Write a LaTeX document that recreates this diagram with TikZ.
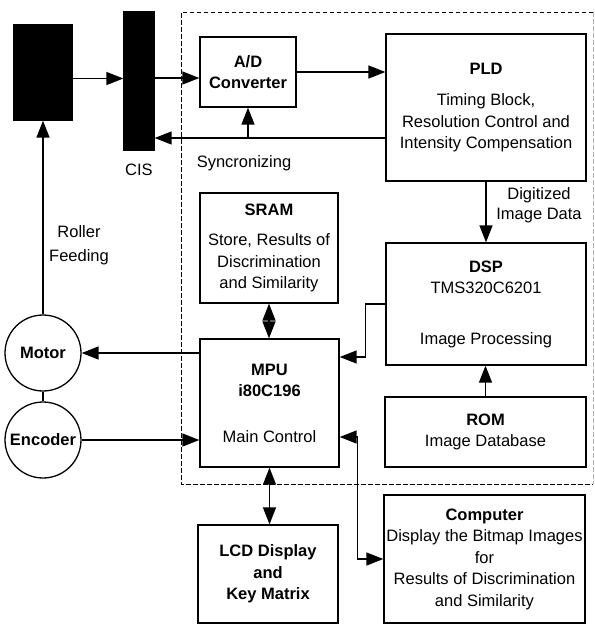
\documentclass[tikz,border=0pt]{standalone}
\usepackage{fontspec}
\setmainfont{Liberation Sans}
\usepackage{tikz}
\usetikzlibrary{arrows.meta,positioning,calc}
\newcommand{\dfont}{\fontsize{16.5}{21.5}\selectfont}

\tikzset{
  blk/.style={draw, line width=1.3pt, align=center, inner sep=0pt, font=\dfont},
  circ/.style={draw, circle, line width=1.3pt, minimum size=76pt, inner sep=0pt, font=\dfont\bfseries},
  lbl/.style={align=center, inner sep=0pt, font=\dfont},
  frame/.style={line width=1pt, dash pattern=on 4.5pt off 2.5pt}
}

\begin{document}
\begin{tikzpicture}[x=1pt, y=-1pt, line width=1.4pt, >={Triangle[length=17pt,width=13pt]}]
    \useasboundingbox (0,0) rectangle (595,625);

    % Board frame (dashed)
    \draw[frame] (593,12) -- (181,12) -- (181,484) -- (593,484);
    \draw[frame, gray!60] (593,12) -- (593,484);

    % Scanner side
    \node[blk, fill=black, minimum width=58pt, minimum height=95pt] (scanner) at (43,72.5) {};
    \node[blk, fill=black, minimum width=30pt, minimum height=138pt] (cis) at (139,81) {};
    \node[lbl] (cislbl) at (139,170) {CIS};

    % Blocks on the board
    \node[blk, minimum width=96pt, minimum height=70pt] (adc) at (248,72)
        {\textbf{A/D}\\\textbf{Converter}};
    \node[blk, minimum width=200pt, minimum height=147pt] (pld) at (486,107.5)
        {\textbf{PLD}\\[10pt]Timing Block,\\Resolution Control and\\Intensity Compensation};
    \node[blk, minimum width=200pt, minimum height=122pt] (dsp) at (486,304)
        {\textbf{DSP}\\TMS320C6201\\[29pt]Image Processing};
    \node[blk, minimum width=201pt, minimum height=70pt] (rom) at (485.5,432)
        {\textbf{ROM}\\Image Database};
    \node[blk, minimum width=138pt, minimum height=110pt] (sram) at (269,248)
        {\textbf{SRAM}\\[9pt]Store, Results of\\Discrimination\\and Similarity};
    \node[blk, minimum width=139pt, minimum height=128pt] (mpu) at (269.5,403)
        {\textbf{MPU}\\\textbf{i80C196}\\[24pt]Main Control};

    % Outside the board
    \node[blk, minimum width=140pt, minimum height=98pt] (lcd) at (268,574)
        {\textbf{LCD Display}\\\textbf{and}\\\textbf{Key Matrix}};
    \node[blk, minimum width=201pt, minimum height=128pt] (pc) at (484.5,559)
        {\textbf{Computer}\\Display the Bitmap Images\\for\\Results of Discrimination\\and Similarity};
    \node[circ] (motor) at (43,353) {Motor};
    \node[circ] (encoder) at (43,440) {Encoder};

    % Labels
    \node[lbl] (synclbl) at (244,163) {Syncronizing};
    \node[lbl, font=\fontsize{16.5}{24}\selectfont] (rollbl) at (79,245) {Roller\\Feeding};
    \node[lbl, font=\fontsize{16.5}{20}\selectfont] (diglbl) at (539,205) {Digitized\\Image Data};

    % Image path
    \draw[->] ([yshift=-6pt]scanner.east) -- ([yshift=-6pt]scanner.east -| cis.west);
    \draw[->] ([yshift=-6pt]adc.west -| cis.east) -- ([yshift=-6pt]adc.west);
    \draw[->] (adc.east) -- (adc.east -| pld.west);
    \draw[->] (pld.south) -- (dsp.north);
    \draw[->] (rom.north) -- (rom.north |- dsp.south);

    % Syncronizing signal
    \coordinate (sync) at ([yshift=-30.5pt]pld.west);
    \draw[->] (sync) -- (sync -| cis.east);
    \draw[->] (sync -| adc.south) -- (adc.south);

    % MPU connections
    \draw[->] (dsp.west) -- ++(-20,0) |- ([yshift=46pt]mpu.east);
    \draw[<->] (sram.south) -- (sram.south |- mpu.north);
    \draw[<->] (mpu.south) -- (mpu.south |- lcd.north);
    \draw[<->] ([yshift=-34pt]mpu.east) -- ++(18,0) |- (pc.west);
    \draw[->] (mpu.west |- motor.east) -- (motor.east);
    \draw[->] (encoder.east) -- (encoder.east -| mpu.west);

    % Roller feeding
    \draw (motor.south) -- (encoder.north);
    \draw[->] (motor.north) -- (scanner.south);
\end{tikzpicture}
\end{document}
